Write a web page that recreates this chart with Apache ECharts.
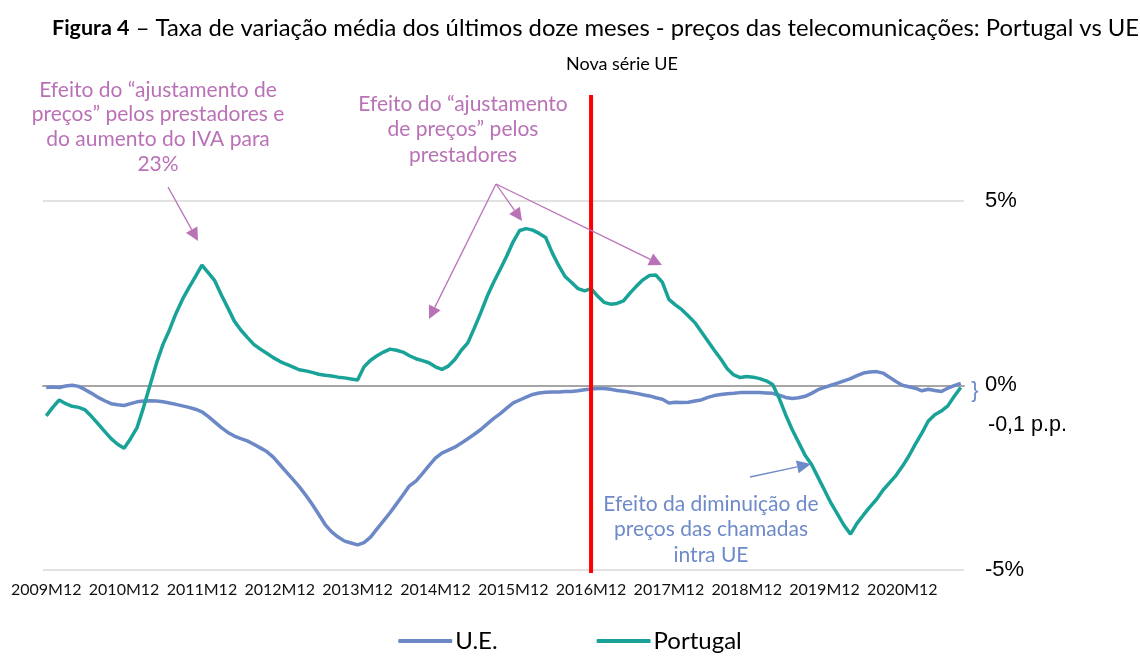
<!DOCTYPE html>
<html><head><meta charset="utf-8">
<script src="https://cdn.jsdelivr.net/npm/echarts@6/dist/echarts.min.js"></script>
<style>html,body{margin:0;padding:0;background:#fff}#c{width:1140px;height:657px}</style>
</head><body><div id="c"></div>
<script>
// ---- data ----
const startYear = 2009, startMonth = 12, monthCount = 142;
const categories = [];
for (let k = 0; k < monthCount; k++) {
  const m = (startMonth - 1 + k) % 12 + 1;
  const y = startYear + Math.floor((startMonth - 1 + k) / 12);
  categories.push(y + 'M' + String(m).padStart(2, '0'));
}
const seriesNames = ['U.E.', 'Portugal'];
const euValues = [
  -0.06,-0.05,-0.06,-0.02,0.00,-0.03,-0.12,-0.22,-0.33,-0.42,-0.50,-0.53,
  -0.55,-0.50,-0.45,-0.43,-0.42,-0.43,-0.45,-0.48,-0.52,-0.56,-0.60,-0.65,
  -0.72,-0.85,-1.00,-1.15,-1.28,-1.38,-1.45,-1.51,-1.60,-1.70,-1.80,-1.95,
  -2.15,-2.35,-2.55,-2.75,-2.98,-3.23,-3.50,-3.78,-3.98,-4.12,-4.23,-4.28,
  -4.33,-4.27,-4.12,-3.90,-3.68,-3.46,-3.22,-2.98,-2.73,-2.60,-2.40,-2.18,
  -1.98,-1.84,-1.76,-1.68,-1.57,-1.45,-1.33,-1.20,-1.05,-0.90,-0.77,-0.62,
  -0.48,-0.40,-0.32,-0.25,-0.21,-0.19,-0.18,-0.18,-0.17,-0.17,-0.15,-0.12,
  -0.10,-0.09,-0.09,-0.11,-0.14,-0.16,-0.19,-0.22,-0.26,-0.29,-0.34,-0.38,
  -0.48,-0.46,-0.47,-0.46,-0.43,-0.40,-0.33,-0.28,-0.25,-0.23,-0.22,-0.20,
  -0.20,-0.20,-0.20,-0.21,-0.22,-0.27,-0.33,-0.36,-0.34,-0.30,-0.22,-0.12,
  -0.06,0.00,0.06,0.12,0.18,0.26,0.33,0.36,0.37,0.33,0.22,0.10,
  0.00,-0.04,-0.08,-0.15,-0.11,-0.14,-0.17,-0.08,-0.01,0.05
];
const ptValues = [
  -0.83,-0.60,-0.40,-0.50,-0.57,-0.60,-0.67,-0.85,-1.05,-1.25,-1.45,-1.60,
  -1.71,-1.45,-1.15,-0.60,0.00,0.60,1.11,1.50,1.95,2.33,2.65,2.95,
  3.26,3.05,2.83,2.45,2.10,1.74,1.50,1.30,1.11,0.98,0.87,0.75,
  0.65,0.57,0.50,0.42,0.39,0.35,0.30,0.27,0.25,0.22,0.20,0.17,
  0.14,0.50,0.68,0.80,0.90,0.98,0.95,0.90,0.80,0.72,0.67,0.61,
  0.50,0.43,0.52,0.70,0.95,1.15,1.55,1.97,2.42,2.80,3.15,3.51,
  3.90,4.20,4.25,4.21,4.12,4.01,3.60,3.25,2.95,2.79,2.62,2.56,
  2.62,2.42,2.25,2.20,2.22,2.29,2.50,2.69,2.86,2.98,2.99,2.79,
  2.33,2.18,2.05,1.88,1.70,1.45,1.20,0.95,0.71,0.45,0.28,0.21,
  0.24,0.22,0.18,0.12,0.02,-0.35,-0.80,-1.20,-1.55,-1.90,-2.15,-2.50,
  -2.85,-3.20,-3.50,-3.80,-4.04,-3.75,-3.52,-3.30,-3.10,-2.85,-2.65,-2.45,
  -2.20,-1.92,-1.60,-1.30,-0.97,-0.80,-0.70,-0.56,-0.30,-0.06
];
const yMin = -5, yMax = 5, yInterval = 5;
const newSeriesCategory = '2016M12';

// ---- style ----
const euColor = '#6C88C6', ptColor = '#19A398';
const noteViolet = '#BA72B7', noteBlue = '#6E8AC9';
const latoFont = 'Lato, "Noto Sans", sans-serif';
const arialFont = '"Liberation Sans", Arial, sans-serif';

const chart = echarts.init(document.getElementById('c'), null, {renderer: 'canvas'});

chart.setOption({
  animation: false,
  title: {
    text: '{b|Figura 4} – Taxa de variação média dos últimos doze meses - preços das telecomunicações: Portugal vs UE',
    left: 47, top: 11,
    textStyle: {
      fontFamily: latoFont, fontSize: 23.8, fontWeight: 'normal', color: '#000',
      rich: { b: {fontFamily: latoFont, fontSize: 21.5, fontWeight: 'bold', color: '#000'} }
    }
  },
  grid: { left: 43, right: 176, top: 201, bottom: 87.5, containLabel: false },
  legend: {
    bottom: -1, left: 'center',
    itemWidth: 54, itemHeight: 4, itemGap: 99, icon: 'roundRect',
    textStyle: { fontFamily: latoFont, fontSize: 24, color: '#000', padding: [0,0,0,-2] },
    data: seriesNames
  },
  xAxis: {
    type: 'category', data: categories, boundaryGap: true,
    axisLine: { lineStyle: { color: '#A6A6A6', width: 2 } },
    axisTick: { interval: 11, inside: true, length: 5, lineStyle: { color: '#A6A6A6', width: 2 } },
    axisLabel: { interval: 11, fontFamily: latoFont, fontSize: 16, color: '#111', margin: 12 },
    splitLine: { show: false }
  },
  yAxis: {
    type: 'value', position: 'right', min: yMin, max: yMax, interval: yInterval,
    axisLine: { show: false }, axisTick: { show: false },
    axisLabel: { formatter: '{value}%', fontFamily: arialFont, fontSize: 22, color: '#000', margin: 21, align: 'left' },
    splitLine: { lineStyle: { color: '#D9D9D9', width: 1.5 } }
  },
  series: [
    { name: seriesNames[0], type: 'line', data: euValues, showSymbol: false, symbol: 'none',
      lineStyle: { color: euColor, width: 3.5 }, itemStyle: { color: euColor }, z: 3 },
    { name: seriesNames[1], type: 'line', data: ptValues, showSymbol: false, symbol: 'none',
      lineStyle: { color: ptColor, width: 3.5 }, itemStyle: { color: ptColor }, z: 4 }
  ]
});

function arrow(x1, y1, x2, y2, color, w, hl, hw) {
  const dx = x2 - x1, dy = y2 - y1, L = Math.sqrt(dx*dx + dy*dy);
  const ux = dx / L, uy = dy / L;
  const bx = x2 - ux * hl, by = y2 - uy * hl;
  const px = -uy * hw / 2, py = ux * hw / 2;
  return [
    { type: 'line', shape: { x1: x1, y1: y1, x2: bx, y2: by }, style: { stroke: color, lineWidth: w }, z: 20 },
    { type: 'polygon', shape: { points: [[x2, y2], [bx + px, by + py], [bx - px, by - py]] }, style: { fill: color }, z: 20 }
  ];
}
function note(lines, cx, y0, lh, color, size, font) {
  return lines.map((t, i) => ({
    type: 'text', x: cx, y: y0 + i * lh, z: 20,
    style: { text: t, fill: color, font: size + 'px ' + font, textAlign: 'center', textVerticalAlign: 'middle' }
  }));
}

const redX = chart.convertToPixel({ xAxisIndex: 0 }, newSeriesCategory);
let g = [];
g.push({ type: 'line', shape: { x1: redX, y1: 95, x2: redX, y2: 573 }, style: { stroke: '#FF0000', lineWidth: 4 }, z: 15 });
g.push({ type: 'text', x: 622, y: 64, style: { text: 'Nova série UE', fill: '#000', font: '18px ' + latoFont, textAlign: 'center', textVerticalAlign: 'middle' } });
g = g.concat(note(['Efeito do “ajustamento de', 'preços” pelos prestadores e', 'do aumento do IVA para', '23%'], 158, 90, 24.7, noteViolet, 21, latoFont));
g = g.concat(note(['Efeito do “ajustamento', 'de preços” pelos', 'prestadores'], 463, 104, 25.5, noteViolet, 21, latoFont));
g = g.concat(note(['Efeito da diminuição de', 'preços das chamadas', 'intra UE'], 711, 504, 25.5, noteBlue, 21, latoFont));
g = g.concat(arrow(168, 187, 198, 241, noteViolet, 1.3, 13, 13));
g = g.concat(arrow(496, 184, 429, 319, noteViolet, 1.3, 13, 13));
g = g.concat(arrow(496, 184, 522, 221, noteViolet, 1.3, 13, 13));
g = g.concat(arrow(496, 184, 662, 265, noteViolet, 1.3, 13, 13));
g = g.concat(arrow(750, 477, 811, 464, noteBlue, 1.3, 14, 13));
g.push({ type: 'text', x: 988, y: 425, style: { text: '-0,1 p.p.', fill: '#000', font: '21.5px ' + arialFont, textAlign: 'left', textVerticalAlign: 'middle' } });
g.push({ type: 'text', x: 975, y: 391, style: { text: '}', fill: noteBlue, font: '22px ' + arialFont, textAlign: 'center', textVerticalAlign: 'middle' } });
chart.setOption({ graphic: g });
</script>
</body></html>
